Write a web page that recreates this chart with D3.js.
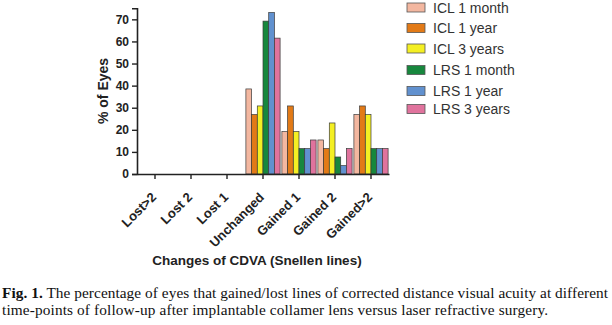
<!DOCTYPE html>
<html>
<head>
<meta charset="utf-8">
<script src="https://cdn.jsdelivr.net/npm/d3@7"></script>
<style>
  body { margin: 0; background: #fff; }
  svg { display: block; }
</style>
</head>
<body>
<div id="chart"></div>
<script>
// categories and series
var categories = ["Lost>2", "Lost 2", "Lost 1", "Unchanged", "Gained 1", "Gained 2", "Gained>2"];
var seriesNames = ["ICL 1 month", "ICL 1 year", "ICL 3 years", "LRS 1 month", "LRS 1 year", "LRS 3 years"];
var seriesColors = ["#f3b7a0", "#e27a17", "#f4ef23", "#17873d", "#6191cf", "#e0739d"];
var icl1m = [0, 0, 0, 38.5, 19.2, 15.4, 26.9];
var icl1y = [0, 0, 0, 26.9, 30.8, 11.5, 30.8];
var icl3y = [0, 0, 0, 30.8, 19.2, 23.1, 26.9];
var lrs1m = [0, 0, 0, 69.2, 11.5, 7.7, 11.5];
var lrs1y = [0, 0, 0, 73.1, 11.5, 3.8, 11.5];
var lrs3y = [0, 0, 0, 61.5, 15.4, 11.5, 11.5];
var yTicks = [0, 10, 20, 30, 40, 50, 60, 70];
var captionLine1 = "The percentage of eyes that gained/lost lines of corrected distance visual acuity at different";
var captionLine2 = "time-points of follow-up after implantable collamer lens versus laser refractive surgery.";

var seriesValues = [icl1m, icl1y, icl3y, lrs1m, lrs1y, lrs3y];

var W = 612, H = 325;
var svg = d3.select("#chart").append("svg")
	.attr("width", W)
	.attr("height", H);

var sans = "'Liberation Sans', Arial, sans-serif";
var serif = "'Liberation Serif', 'Times New Roman', serif";

// scales
var x = d3.scaleBand().domain(categories).range([137, 389]).paddingInner(0.05).paddingOuter(0.025);
var x1 = d3.scaleBand().domain(d3.range(seriesNames.length)).range([0, x.bandwidth()]);
var y = d3.scaleLinear().domain([0, 75]).range([174, 8.3]);

// bars
var rows = [];
categories.forEach(function(c, i) {
	seriesValues.forEach(function(vals, s) {
		if (vals[i] > 0) rows.push({ cat: c, s: s, v: vals[i] });
	});
});

svg.append("g").selectAll("rect")
	.data(rows)
	.enter().append("rect")
	.attr("x", function(d) { return x(d.cat) + x1(d.s); })
	.attr("y", function(d) { return y(d.v); })
	.attr("width", x1.bandwidth())
	.attr("height", function(d) { return y(0) - y(d.v); })
	.attr("fill", function(d) { return seriesColors[d.s]; })
	.attr("stroke", "#3a3a3a")
	.attr("stroke-width", 0.7);

// y axis
var yAxis = svg.append("g")
	.attr("transform", "translate(137,0)")
	.call(d3.axisLeft(y).tickValues(yTicks).tickSize(5).tickPadding(3));
yAxis.select(".domain").attr("stroke", "#222").attr("stroke-width", 1.6);
yAxis.selectAll(".tick line").attr("stroke", "#222").attr("stroke-width", 1.4);
yAxis.selectAll(".tick text")
	.attr("fill", "#222")
	.style("font-family", sans)
	.style("font-weight", "bold")
	.style("font-size", "12px");

// x axis
var xAxis = svg.append("g")
	.attr("transform", "translate(0,174)")
	.call(d3.axisBottom(x).tickSize(5).tickSizeOuter(0));
xAxis.select(".domain").attr("stroke", "#222").attr("stroke-width", 1.6);
xAxis.selectAll(".tick line").attr("stroke", "#222").attr("stroke-width", 1.4);
xAxis.selectAll(".tick text")
	.attr("fill", "#222")
	.style("font-family", sans)
	.style("font-weight", "bold")
	.style("font-size", "13px")
	.attr("text-anchor", "end")
	.attr("x", 0)
	.attr("y", 0)
	.attr("dy", 0)
	.attr("transform", "translate(2,24) rotate(-45)");

// axis titles
svg.append("text")
	.attr("transform", "translate(108,91) rotate(-90)")
	.attr("text-anchor", "middle")
	.attr("fill", "#222")
	.style("font-family", sans)
	.style("font-weight", "bold")
	.style("font-size", "14px")
	.text("% of Eyes");

svg.append("text")
	.attr("x", 257)
	.attr("y", 265)
	.attr("text-anchor", "middle")
	.attr("fill", "#222")
	.style("font-family", sans)
	.style("font-weight", "bold")
	.style("font-size", "13.5px")
	.text("Changes of CDVA (Snellen lines)");

// legend
var legend = svg.append("g").attr("transform", "translate(407,0)");
var legY = [7.5, 28, 48.5, 70, 91, 109];
seriesNames.forEach(function(name, i) {
	var g = legend.append("g").attr("transform", "translate(0," + legY[i] + ")");
	g.append("rect")
		.attr("x", 0).attr("y", -4.5)
		.attr("width", 18).attr("height", 9)
		.attr("fill", seriesColors[i])
		.attr("stroke", "#555")
		.attr("stroke-width", 0.8);
	g.append("text")
		.attr("x", 26).attr("y", 5)
		.attr("fill", "#333")
		.style("font-family", sans)
		.style("font-size", "14px")
		.text(name);
});

// caption
var cap = svg.append("text")
	.attr("x", 2).attr("y", 298)
	.attr("fill", "#111")
	.attr("textLength", 606)
	.attr("lengthAdjust", "spacing")
	.style("font-family", serif)
	.style("font-size", "15.3px");
cap.append("tspan").style("font-weight", "bold").text("Fig. 1.");
cap.append("tspan").text(" " + captionLine1);

svg.append("text")
	.attr("x", 2).attr("y", 315)
	.attr("fill", "#111")
	.attr("textLength", 546)
	.attr("lengthAdjust", "spacing")
	.style("font-family", serif)
	.style("font-size", "15.3px")
	.text(captionLine2);
</script>
</body>
</html>
